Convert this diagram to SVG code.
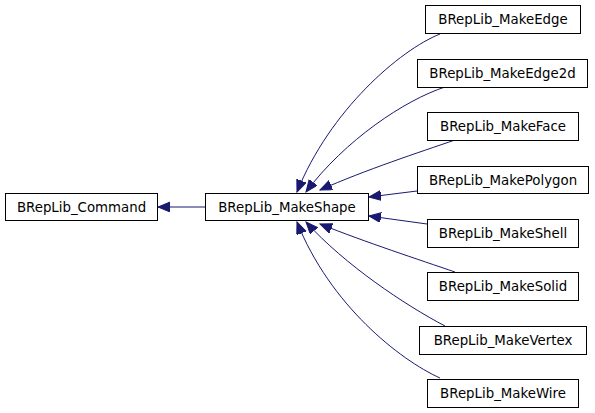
<svg xmlns="http://www.w3.org/2000/svg" width="595" height="413" viewBox="0 0 595 413">
<style>
.n rect{fill:#fff;stroke:#000;stroke-width:1}
.n text{font-family:"DejaVu Sans",sans-serif;font-size:13.33px;fill:#000;text-anchor:middle}
.e path{fill:none;stroke:#191970;stroke-width:1}
</style>
<defs>
<marker id="a" markerUnits="userSpaceOnUse" markerWidth="14" markerHeight="12" refX="12" refY="5" orient="auto">
<polygon points="0,0 12,5 0,10" fill="#191970" stroke="#191970"/>
</marker>
</defs>
<rect width="595" height="413" fill="#fff"/>
<g class="e">
<path d="M205,207 L158,207" marker-end="url(#a)"/>
<path d="M440,34 C400,50 330,110 297,192" marker-end="url(#a)"/>
<path d="M445,87 C405,100 345,140 306,192" marker-end="url(#a)"/>
<path d="M455,140 C420,152 365,170 320,190" marker-end="url(#a)"/>
<path d="M417,191 L369,197" marker-end="url(#a)"/>
<path d="M427,224 L369,216" marker-end="url(#a)"/>
<path d="M455,272 C420,260 365,242 320,224" marker-end="url(#a)"/>
<path d="M445,326 C405,305 345,265 306,222" marker-end="url(#a)"/>
<path d="M440,378 C400,360 330,305 297,222" marker-end="url(#a)"/>
</g>
<g id="command" class="n"><rect x="5.5" y="193.5" width="152" height="27"/><text x="81.5" y="212">BRepLib_Command</text></g>
<g id="makeshape" class="n"><rect x="205.5" y="193.5" width="163" height="27"/><text x="287" y="212">BRepLib_MakeShape</text></g>
<g id="makeedge" class="n"><rect x="425.5" y="5.5" width="155" height="28"/><text x="503" y="24">BRepLib_MakeEdge</text></g>
<g id="makeedge2d" class="n"><rect x="417.5" y="59.5" width="170" height="28"/><text x="502.5" y="78">BRepLib_MakeEdge2d</text></g>
<g id="makeface" class="n"><rect x="427.5" y="112.5" width="151" height="28"/><text x="503" y="131">BRepLib_MakeFace</text></g>
<g id="makepolygon" class="n"><rect x="417.5" y="166.5" width="171" height="27"/><text x="503" y="185">BRepLib_MakePolygon</text></g>
<g id="makeshell" class="n"><rect x="427.5" y="219.5" width="151" height="28"/><text x="503" y="238">BRepLib_MakeShell</text></g>
<g id="makesolid" class="n"><rect x="427.5" y="272.5" width="151" height="28"/><text x="503" y="291">BRepLib_MakeSolid</text></g>
<g id="makevertex" class="n"><rect x="419.5" y="326.5" width="167" height="28"/><text x="503" y="345">BRepLib_MakeVertex</text></g>
<g id="makewire" class="n"><rect x="427.5" y="379.5" width="151" height="28"/><text x="503" y="398">BRepLib_MakeWire</text></g>
</svg>
